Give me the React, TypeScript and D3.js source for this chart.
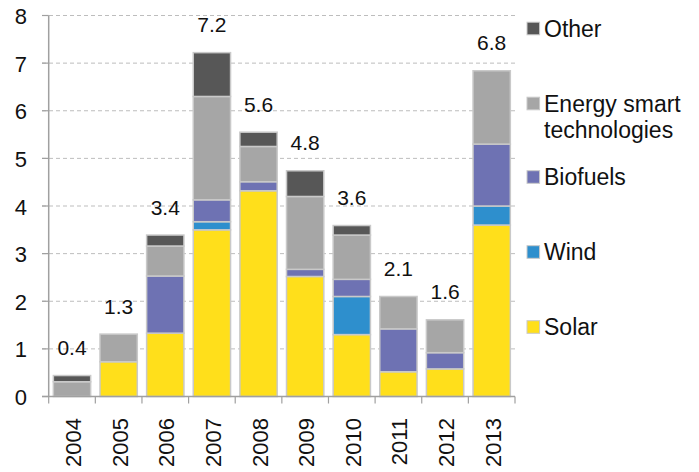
import React from "react";
import * as d3 from "d3";

const years = ["2004", "2005", "2006", "2007", "2008", "2009", "2010", "2011", "2012", "2013"];
const solar = [0, 0.73, 1.33, 3.5, 4.32, 2.52, 1.3, 0.52, 0.58, 3.6];
const wind = [0, 0, 0, 0.17, 0, 0, 0.8, 0, 0, 0.4];
const biofuels = [0, 0, 1.2, 0.46, 0.19, 0.15, 0.36, 0.9, 0.34, 1.3];
const energySmart = [0.31, 0.58, 0.63, 2.17, 0.74, 1.53, 0.93, 0.68, 0.69, 1.54];
const other = [0.13, 0, 0.23, 0.92, 0.3, 0.54, 0.2, 0, 0, 0];
const totalLabels = ["0.4", "1.3", "3.4", "7.2", "5.6", "4.8", "3.6", "2.1", "1.6", "6.8"];
const yTicks = [0, 1, 2, 3, 4, 5, 6, 7, 8];

const seriesNames = ["Solar", "Wind", "Biofuels", "Energy smart technologies", "Other"];
const seriesValues = [solar, wind, biofuels, energySmart, other];
const seriesColors = ["#FFDF1B", "#2E8FCD", "#6E72B3", "#A6A6A6", "#575757"];

const FONT = "'Liberation Sans', Arial, Helvetica, sans-serif";

export default function App() {
  const W = 699, H = 472;
  const left = 48.7, right = 515, top = 15.5, bottom = 396.5;

  const x = d3.scaleBand<string>().domain(years).range([left, right]).paddingInner(0.2).paddingOuter(0.1);
  const xb = d3.scaleBand<string>().domain(years).range([left, right]);
  const y = d3.scaleLinear().domain([0, 8]).range([bottom, top]);

  const table = years.map((yr, i) => {
    const row: any = { year: yr };
    seriesNames.forEach((s, k) => (row[s] = seriesValues[k][i]));
    return row;
  });
  const stacked = d3.stack<any>().keys(seriesNames)(table);
  const totals = years.map((_, i) => seriesValues.reduce((a, s) => a + s[i], 0));

  const legendItems = [
    { k: 4, lines: ["Other"], y: 28.5 },
    { k: 3, lines: ["Energy smart", "technologies"], y: 103.5 },
    { k: 2, lines: ["Biofuels"], y: 177 },
    { k: 1, lines: ["Wind"], y: 252 },
    { k: 0, lines: ["Solar"], y: 327 },
  ];

  return (
    <svg width={W} height={H} style={{ position: "absolute", left: 0, top: 0, background: "#fff" }} fontFamily={FONT}>
      {/* gridlines */}
      {yTicks.filter((t) => t > 0).map((t) => (
        <line key={"g" + t} x1={42} x2={right} y1={y(t)} y2={y(t)} stroke="#BDBDBD" strokeWidth={1} strokeDasharray="4,3" />
      ))}
      {/* y ticks */}
      {yTicks.map((t) => (
        <g key={"yt" + t}>
          <line x1={42} x2={left} y1={y(t)} y2={y(t)} stroke="#A0A0A0" strokeWidth={1.2} />
          <text x={27} y={y(t) + 8.5} textAnchor="end" fontSize={22} fill="#111">{t}</text>
        </g>
      ))}
      {/* bars */}
      {stacked.map((layer, k) => (
        <g key={"s" + k} fill={seriesColors[k]}>
          {layer.map((d, i) => {
            const h = y(d[0]) - y(d[1]);
            if (h <= 0.01) return null;
            return (
              <rect key={i} x={x(years[i])} width={x.bandwidth()} y={y(d[1])} height={h} stroke="#C9C9C9" strokeWidth={1.5} />
            );
          })}
        </g>
      ))}
      {/* axes */}
      <line x1={left} x2={left} y1={top} y2={bottom} stroke="#A0A0A0" strokeWidth={1.5} />
      <line x1={42} x2={right} y1={bottom} y2={bottom} stroke="#A0A0A0" strokeWidth={1.5} />
      {years.map((yr) => (
        <line key={"xt" + yr} x1={xb(yr)} x2={xb(yr)} y1={bottom} y2={bottom + 7} stroke="#A0A0A0" strokeWidth={1.2} />
      ))}
      <line x1={right} x2={right} y1={bottom} y2={bottom + 7} stroke="#A0A0A0" strokeWidth={1.2} />
      {/* x labels */}
      {years.map((yr) => (
        <text key={"xl" + yr} transform={`translate(${(x(yr) as number) + x.bandwidth() / 2 + 9},418) rotate(-90)`} textAnchor="end" fontSize={22} fill="#111">{yr}</text>
      ))}
      {/* totals */}
      {years.map((yr, i) => (
        <text key={"tl" + yr} x={(x(yr) as number) + x.bandwidth() / 2} y={y(totals[i]) - 20.5} textAnchor="middle" fontSize={21} fill="#111">{totalLabels[i]}</text>
      ))}
      {/* legend */}
      {legendItems.map((it) => (
        <g key={"lg" + it.k}>
          <rect x={527} y={it.y - 6.3} width={12.6} height={12.6} fill={seriesColors[it.k]} stroke="#C9C9C9" strokeWidth={1} />
          {it.lines.map((ln, j) => (
            <text key={j} x={544} y={it.y + 8.2 + j * 26} fontSize={23} fill="#111">{ln}</text>
          ))}
        </g>
      ))}
    </svg>
  );
}
